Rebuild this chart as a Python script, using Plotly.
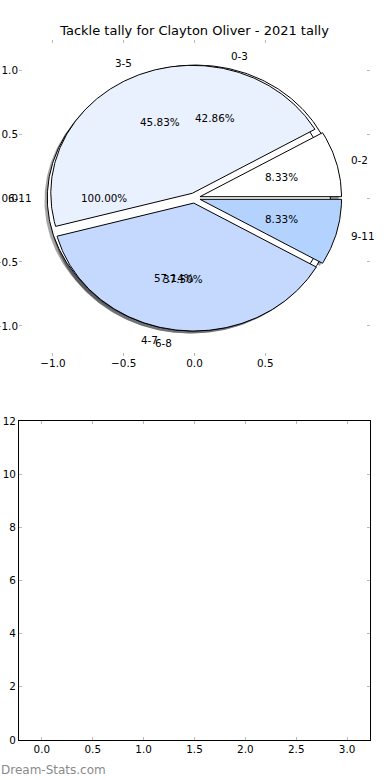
import numpy as np
import plotly.graph_objects as go

# ---------------- data ----------------
title_text = "Tackle tally for Clayton Oliver - 2021 tally"
watermark = "Dream-Stats.com"

pie1_labels = ["0-2", "3-5", "6-8", "9-11"]
pie1_values = [2, 11, 9, 2]
pie1_colors = ["#ffffff", "#eaf1fe", "#c5d8fd", "#b3d3fe"]

pie2_labels = ["0-3", "4-7"]
pie2_values = [3, 4]
pie2_colors = ["#ffffff", "#ffffff"]

pie3_labels = ["6-11"]
pie3_values = [1]
pie3_colors = ["#ffffff"]

pie_xticks = [-1.0, -0.5, 0.0, 0.5]
pie_yticks = [-1.0, -0.5, 0.0, 0.5, 1.0]
bar_xticks = [0.0, 0.5, 1.0, 1.5, 2.0, 2.5, 3.0]
bar_yticks = [0, 2, 4, 6, 8, 10, 12]

# ---------------- style ----------------
EXPLODE = 0.04
LABEL_DIST = 1.1
PCT_DIST = 0.6
SHADOW_OFF = -0.02
FONT = "DejaVu Sans"
TICK_COLOR = "#b8b8b8"

W, H = 390, 780
L, R = 19, 20


def hex_to_rgb(h):
    h = h.lstrip("#")
    return tuple(int(h[i:i + 2], 16) for i in (0, 2, 4))


def wedge_geometry(values):
    vals = np.asarray(values, dtype=float)
    frac = vals / vals.sum()
    ends = np.cumsum(frac) * 360.0
    starts = np.concatenate([[0.0], ends[:-1]])
    out = []
    for f, t1, t2 in zip(frac, starts, ends):
        mid = np.deg2rad((t1 + t2) / 2.0)
        cx, cy = EXPLODE * np.cos(mid), EXPLODE * np.sin(mid)
        n = max(3, int(abs(t2 - t1) / 0.75) + 1)
        th = np.deg2rad(np.linspace(t1, t2, n))
        ax_ = cx + np.cos(th)
        ay_ = cy + np.sin(th)
        if abs((t2 - t1) - 360.0) < 1e-9:
            xs, ys = list(ax_), list(ay_)
        else:
            xs = [cx] + list(ax_) + [cx]
            ys = [cy] + list(ay_) + [cy]
        out.append(dict(frac=f, mid=mid, cx=cx, cy=cy, xs=xs, ys=ys))
    return out


pies = [
    (pie2_labels, pie2_values, pie2_colors),
    (pie3_labels, pie3_values, pie3_colors),
    (pie1_labels, pie1_values, pie1_colors),
]

fig = go.Figure()
geoms = [wedge_geometry(v) for _, v, _ in pies]

# shadows (below all wedges)
for (labels, values, colors), geo in zip(pies, geoms):
    for g, c in zip(geo, colors):
        r, gg, b = hex_to_rgb(c)
        fig.add_trace(go.Scatter(
            x=[v + SHADOW_OFF for v in g["xs"]],
            y=[v + SHADOW_OFF for v in g["ys"]],
            mode="lines", fill="toself",
            fillcolor=f"rgba({int(r*0.3)},{int(gg*0.3)},{int(b*0.3)},0.5)",
            line=dict(width=0), hoverinfo="skip", showlegend=False,
            xaxis="x", yaxis="y"))

# wedges
for (labels, values, colors), geo in zip(pies, geoms):
    for g, c in zip(geo, colors):
        fig.add_trace(go.Scatter(
            x=g["xs"], y=g["ys"], mode="lines", fill="toself",
            fillcolor=c, line=dict(color="black", width=1),
            hoverinfo="skip", showlegend=False, xaxis="x", yaxis="y"))

# labels
annotations = []
for (labels, values, colors), geo in zip(pies, geoms):
    for g, lab in zip(geo, labels):
        lx = g["cx"] + LABEL_DIST * np.cos(g["mid"])
        ly = g["cy"] + LABEL_DIST * np.sin(g["mid"])
        annotations.append(dict(
            x=lx, y=ly, xref="x", yref="y", text=lab, showarrow=False,
            xanchor="left" if lx > 0 else "right", yanchor="middle",
            font=dict(family=FONT, size=10.4, color="black"), borderpad=0))
        px = g["cx"] + PCT_DIST * np.cos(g["mid"])
        py = g["cy"] + PCT_DIST * np.sin(g["mid"])
        annotations.append(dict(
            x=px, y=py, xref="x", yref="y", text=f"{g['frac']*100:.2f}%",
            showarrow=False, xanchor="center", yanchor="middle",
            font=dict(family=FONT, size=10.4, color="black"), borderpad=0))

annotations.append(dict(
    x=0, y=1 - 770 / H, xref="paper", yref="paper", text=watermark,
    showarrow=False, xanchor="left", yanchor="middle", xshift=-L - 1,
    font=dict(family=FONT, size=12, color="#8a8a8a")))

# invisible trace to anchor the empty bottom axes
fig.add_trace(go.Scatter(x=[], y=[], xaxis="x2", yaxis="y2",
                         showlegend=False, hoverinfo="skip"))

tick_font = dict(family=FONT, size=10.4, color="black")


def pdom(top_px, bot_px):
    return [1 - bot_px / H, 1 - top_px / H]


common = dict(ticks="inside", ticklen=3, tickcolor=TICK_COLOR, tickwidth=1,
              mirror="ticks", showgrid=False, zeroline=False,
              tickfont=tick_font, automargin=False, fixedrange=True)

fig.update_layout(
    width=W, height=H,
    margin=dict(l=L, r=R, t=0, b=0, autoexpand=False),
    paper_bgcolor="white", plot_bgcolor="white",
    font=dict(family=FONT, color="black"),
    title=dict(text=title_text, x=0.5, xref="paper", xanchor="center",
               y=1 - 30 / H, yref="container", yanchor="middle",
               font=dict(family=FONT, size=13, color="black"),
               automargin=False),
    annotations=annotations,
    xaxis=dict(domain=[0, 1], anchor="y", range=[-1.24, 1.24],
               tickvals=pie_xticks, tickformat=".1f", showline=False,
               **common),
    yaxis=dict(domain=pdom(40, 356), anchor="x", range=[-1.235, 1.235],
               tickvals=pie_yticks, tickformat=".1f", showline=False,
               **common),
    xaxis2=dict(domain=[0, 1], anchor="y2", range=[-0.225, 3.225],
                tickvals=bar_xticks, tickformat=".1f",
                showline=True, linecolor="black", linewidth=1, **common),
    yaxis2=dict(domain=pdom(421, 740), anchor="x2", range=[0, 12],
                tickvals=bar_yticks,
                showline=True, linecolor="black", linewidth=1, **common),
)

fig.write_html(
    "out.html",
    config={"displayModeBar": False, "staticPlot": True},
    post_script="document.body.style.margin='0';document.body.style.padding='0';",
)
